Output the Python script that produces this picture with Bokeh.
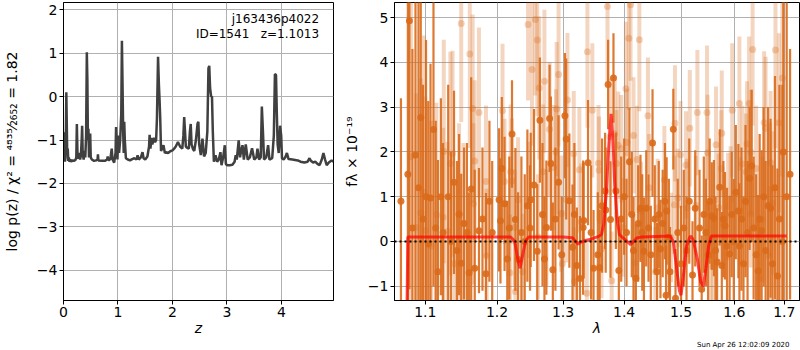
import numpy as np
from bokeh.plotting import figure
from bokeh.layouts import row
from bokeh.models import FixedTicker, Label, ColumnDataSource, Span, CustomJSTickFormatter, Title
from bokeh.embed import file_html
from bokeh.resources import INLINE

# ---------------- left panel: log p(z) ----------------
z_grid = [0.000, 0.005, 0.012, 0.020, 0.028, 0.036, 0.045, 0.052, 0.060, 0.068, 0.078, 0.088, 0.098,
          0.110, 0.125, 0.140, 0.160, 0.190, 0.220, 0.235, 0.245, 0.258, 0.275, 0.290, 0.305, 0.320,
          0.335, 0.342, 0.352, 0.370, 0.385, 0.400, 0.415, 0.428, 0.438, 0.448, 0.458, 0.468, 0.480,
          0.490, 0.500, 0.520, 0.560, 0.600, 0.625, 0.632, 0.640, 0.700, 0.760, 0.800, 0.812, 0.825,
          0.860, 0.885, 0.900, 0.930, 0.955, 0.965, 0.975, 0.990, 1.005, 1.020, 1.040, 1.060, 1.072,
          1.082, 1.095, 1.105, 1.115, 1.125, 1.145, 1.180, 1.220, 1.260, 1.300, 1.340, 1.360, 1.380,
          1.420, 1.450, 1.470, 1.500, 1.540, 1.570, 1.580, 1.595, 1.615, 1.630, 1.650, 1.665, 1.680,
          1.700, 1.715, 1.735, 1.750, 1.765, 1.775, 1.790, 1.810, 1.835, 1.860, 1.880, 1.920, 1.960,
          2.000, 2.030, 2.060, 2.100, 2.140, 2.180, 2.200, 2.215, 2.230, 2.245, 2.270, 2.300, 2.320,
          2.335, 2.350, 2.380, 2.400, 2.430, 2.460, 2.475, 2.490, 2.520, 2.550, 2.580, 2.610, 2.640,
          2.660, 2.675, 2.690, 2.710, 2.725, 2.740, 2.760, 2.790, 2.820, 2.850, 2.880, 2.900, 2.930,
          2.960, 2.980, 3.000, 3.050, 3.100, 3.140, 3.160, 3.180, 3.215, 3.240, 3.260, 3.285, 3.310,
          3.345, 3.380, 3.420, 3.460, 3.500, 3.540, 3.560, 3.590, 3.620, 3.640, 3.660, 3.680, 3.720,
          3.755, 3.780, 3.830, 3.860, 3.880, 3.900, 3.915, 3.930, 3.950, 3.975, 3.995, 4.010, 4.040,
          4.070, 4.100, 4.130, 4.200, 4.250, 4.300, 4.350, 4.420, 4.480, 4.515, 4.540, 4.580, 4.620,
          4.660, 4.700, 4.740, 4.770, 4.800, 4.830, 4.870, 4.920, 4.950]
log_pz = [-1.50, -0.82, -1.45, -1.30, -1.50, -1.40, -0.70, 0.10, -0.60, -1.35, -1.20, -1.48, -1.40,
          -1.50, -1.45, -1.50, -1.47, -1.48, -1.46, -1.40, -0.63, -1.40, -1.42, -1.30, -1.45, -1.35,
          -0.95, -0.67, -1.30, -1.45, -1.25, -1.40, -0.90, 1.02, 0.40, -1.00, -0.74, -1.40, -1.10,
          -0.85, -1.40, -1.45, -1.48, -1.47, -1.45, -1.33, -1.47, -1.48, -1.48, -1.45, -1.38, -1.47,
          -1.44, -1.20, -1.45, -1.52, -1.30, -0.70, -1.00, -1.45, -0.90, -1.30, -1.00, -0.40, 1.29,
          0.40, -0.80, -1.30, -0.58, -1.00, -1.42, -1.45, -1.47, -1.44, -1.42, -1.45, -1.35, -1.45,
          -1.40, -1.28, -1.42, -1.45, -1.38, -1.15, -0.88, -1.20, -0.95, -1.10, -1.00, -0.95, -1.05,
          -1.00, -0.50, 0.92, 0.30, -0.14, -0.50, -1.25, -1.20, -1.12, -1.30, -1.28, -1.30, -1.26,
          -1.24, -1.20, -1.15, -1.05, -1.15, -1.20, -0.90, -0.47, -0.80, -1.15, -1.18, -1.20, -0.80,
          -0.63, -1.10, -1.22, -1.25, -1.00, -0.62, -0.58, -1.10, -1.35, -0.97, -1.38, -1.30, -0.80,
          0.65, 0.71, 0.20, 0.00, 0.00, -0.80, -1.50, -1.35, -1.50, -1.45, -1.28, -1.58, -1.40,
          -1.12, -1.55, -1.58, -1.58, -1.57, -1.50, -1.35, -1.45, -1.01, -1.40, -1.25, -1.12, -1.45,
          -1.10, -1.45, -1.40, -1.19, -1.45, -1.40, -1.20, -1.45, -1.40, -0.23, -0.80, -1.45, -1.40,
          -1.12, -1.45, -1.42, -0.90, 0.52, 0.50, -0.40, -1.10, -1.30, -0.67, -0.90, -1.42, -1.45,
          -1.40, -1.30, -1.44, -1.45, -1.46, -1.47, -1.50, -1.52, -1.50, -1.42, -1.48, -1.52, -1.50,
          -1.55, -1.58, -1.45, -1.30, -1.45, -1.58, -1.52, -1.47, -1.50]

z_ticks = [0, 1, 2, 3, 4]
logp_ticks = [-4, -3, -2, -1, 0, 1, 2]
title_id = "j163436p4022"
title_fit = "ID=1541\u00a0\u00a0\u00a0z=1.1013"

# ---------------- right panel: spectrum ----------------
# dark (first grism) points: wavelength [um], flux, error
lam_dark = [1.068, 1.077, 1.079, 1.083, 1.087, 1.091, 1.094, 1.097, 1.101, 1.104, 1.107, 1.111,
            1.114, 1.117, 1.121, 1.124, 1.131, 1.135, 1.139, 1.143, 1.146, 1.149, 1.153, 1.157,
            1.160, 1.163, 1.168, 1.174, 1.179, 1.184, 1.189, 1.193, 1.203, 1.205, 1.207, 1.211,
            1.215, 1.218, 1.222, 1.227, 1.231, 1.236, 1.241, 1.245, 1.249, 1.250, 1.255, 1.260,
            1.264, 1.268, 1.271, 1.274, 1.279, 1.281, 1.284, 1.288, 1.293, 1.298, 1.303, 1.305,
            1.310, 1.315, 1.318, 1.322, 1.327, 1.332, 1.333, 1.340, 1.345, 1.349, 1.356, 1.359,
            1.363, 1.368, 1.369, 1.373, 1.377, 1.382, 1.386, 1.391, 1.395, 1.400, 1.404, 1.409,
            1.413, 1.416, 1.420, 1.424, 1.428, 1.431, 1.434, 1.438, 1.442, 1.446, 1.449, 1.453,
            1.457, 1.460, 1.463, 1.467, 1.471, 1.473, 1.474, 1.478, 1.480, 1.486, 1.490, 1.494,
            1.500, 1.505, 1.510, 1.515, 1.521, 1.526, 1.534, 1.538, 1.542, 1.546, 1.550, 1.553,
            1.557, 1.561, 1.564, 1.567, 1.572, 1.576, 1.579, 1.582, 1.586, 1.591, 1.595, 1.599,
            1.603, 1.608, 1.610, 1.614, 1.618, 1.622, 1.626, 1.630, 1.634, 1.638, 1.643, 1.647,
            1.650, 1.654, 1.658, 1.662, 1.667, 1.672, 1.676, 1.681, 1.686, 1.690, 1.696, 1.698,
            1.705, 1.712]
flux_dark = [0.90, 1.50, 4.93, 0.30, 1.93, 1.20, 2.77, 0.50, 1.00, -0.06, 0.97, 2.50,
             0.30, -0.68, 1.00, 0.20, 1.00, 0.00, 1.32, -0.20, 0.60, -0.49, 0.40, 0.20,
             -0.70, 1.17, -0.60, 0.24, 0.50, -0.72, 0.90, 0.20, 0.93, 0.46, 1.63, 0.84,
             -0.39, 0.30, 2.40, 0.49, -0.40, 0.20, 0.00, 0.80, 0.30, 0.93, 1.26, -0.22,
             2.71, 0.60, -0.39, 0.31, 2.75, 1.74, -0.63, 0.50, 1.32, -0.30, 2.81, 2.29,
             0.91, -0.13, 0.60, -0.54, -0.83, 0.31, 0.47, 1.76, 0.20, -0.60, -0.30, -0.59,
             0.80, 1.13, 0.70, 3.51, 0.49, 3.65, 1.13, -0.65, 0.50, 1.00, 0.20, 1.78,
             0.60, -0.20, -0.82, 0.40, 0.74, 0.20, -0.22, 0.74, 0.30, -0.30, 2.20, 0.50,
             -0.68, 0.60, -0.17, 0.40, 0.90, -1.20, 0.68, 0.10, -0.68, 2.51, -1.27, 0.20,
             -0.50, 0.30, -0.20, 0.90, -0.75, 0.74, 0.30, -1.07, 0.60, 0.20, -0.30, 0.90,
             0.57, 0.52, -0.20, -0.46, 1.21, -0.54, 0.50, 0.35, -0.10, -0.28, 0.60, 0.00,
             1.10, 0.68, -0.10, 0.50, -0.50, 0.90, 0.20, 1.41, 1.69, 0.30, -0.30, -0.66,
             0.50, 0.24, 1.00, -0.20, 0.80, 0.74, -0.50, 1.20, -0.77, 0.50, 0.00, 2.00,
             1.00, 1.50]
err_dark = [2.3, 5.0, 6.0, 4.0, 5.0, 4.5, 4.5, 3.0, 3.5, 3.2, 3.0, 3.5,
            2.4, 2.5, 2.2, 2.0, 2.5, 2.0, 2.05, 2.0, 1.8, 2.0, 1.7, 2.0,
            1.8, 2.5, 2.2, 1.4, 1.6, 1.8, 1.8, 1.6, 1.6, 1.4, 1.6, 1.5,
            1.3, 1.6, 1.2, 1.6, 1.5, 1.7, 1.5, 1.7, 1.4, 1.5, 1.7, 1.5,
            1.4, 1.6, 1.4, 1.5, 1.2, 1.5, 1.5, 1.6, 1.5, 1.3, 1.4, 1.8,
            1.5, 1.4, 1.6, 1.3, 1.4, 1.5, 1.3, 1.4, 1.5, 1.3, 1.4, 1.3,
            1.5, 1.3, 1.4, 1.0, 1.3, 1.0, 1.3, 1.2, 1.4, 1.3, 1.2, 1.2,
            1.4, 1.2, 1.2, 1.3, 1.2, 1.3, 1.2, 1.3, 1.2, 1.1, 1.2, 1.2,
            1.1, 1.2, 1.1, 1.2, 1.3, 1.1, 1.2, 1.3, 1.0, 0.9, 1.1, 1.2,
            1.3, 1.3, 1.2, 1.4, 1.2, 1.3, 1.3, 1.2, 1.3, 1.2, 1.2, 1.4,
            1.2, 1.3, 1.2, 1.2, 1.3, 1.2, 1.3, 1.2, 1.3, 1.3, 1.4, 1.4,
            1.5, 1.5, 1.4, 1.6, 1.5, 1.7, 1.6, 1.6, 1.7, 1.6, 1.8, 1.7,
            1.9, 1.8, 2.0, 2.0, 2.2, 2.0, 2.2, 2.5, 2.4, 3.0, 3.5, 5.0,
            6.0, 2.8]

# light (second grism) points
lam_light = [1.081, 1.088, 1.094, 1.098, 1.100, 1.108, 1.115, 1.124, 1.125, 1.130, 1.134, 1.137,
             1.140, 1.146, 1.149, 1.152, 1.161, 1.165, 1.166, 1.168, 1.174, 1.184, 1.185, 1.208,
             1.211, 1.219, 1.220, 1.222, 1.226, 1.227, 1.231, 1.238, 1.246, 1.247, 1.252, 1.257,
             1.260, 1.261, 1.263, 1.269, 1.271, 1.274, 1.279, 1.285, 1.289, 1.290, 1.293, 1.297,
             1.299, 1.305, 1.307, 1.317, 1.318, 1.326, 1.329, 1.338, 1.339, 1.347, 1.357, 1.358,
             1.362, 1.372, 1.376, 1.379, 1.384, 1.387, 1.390, 1.395, 1.398, 1.403, 1.405, 1.408,
             1.411, 1.416, 1.418, 1.422, 1.426, 1.429, 1.441, 1.443, 1.454, 1.458, 1.470, 1.482,
             1.488, 1.489, 1.494, 1.499, 1.509, 1.511, 1.516, 1.527, 1.530, 1.548, 1.549, 1.555,
             1.559, 1.565, 1.570, 1.575, 1.576, 1.588, 1.593, 1.596, 1.610, 1.612, 1.616, 1.623,
             1.625, 1.629, 1.632, 1.633, 1.636, 1.643, 1.649, 1.656, 1.659, 1.662, 1.669, 1.671,
             1.672, 1.676, 1.682, 1.689, 1.696]
flux_light = [1.89, 0.31, 0.64, 1.10, 0.24, -0.10, 0.60, 0.54, 2.01, 0.22, 1.74, 1.96,
              -0.50, 0.64, 4.87, 0.40, 4.19, 2.97, 0.84, 1.80, 2.88, 1.34, -0.32, 2.92,
              1.34, -0.70, 1.56, 1.35, 0.31, -1.12, 0.93, -0.68, 4.85, 0.93, 3.84, 4.96,
              4.50, 0.10, 3.43, 1.56, 3.58, 0.31, 2.51, 1.65, 2.00, 2.96, 3.73, 0.62,
              -0.50, 0.93, 3.16, 1.96, -0.89, 1.60, 0.44, -1.16, 4.24, 2.93, 1.75, 1.59,
              -0.17, 5.25, 2.34, -0.88, 2.40, 1.74, 2.15, 2.07, 0.31, 3.41, 2.21, 4.54,
              5.29, 2.37, -0.48, 1.83, 4.51, 0.68, 2.81, 1.20, -0.68, 0.75, 1.38, 0.09,
              0.82, 2.64, 0.97, 1.94, 1.71, 0.75, 2.53, 0.81, 2.88, 2.88, 1.98, -0.31,
              -0.56, 2.16, 0.76, 1.63, 2.42, 0.78, 0.93, 2.93, 3.08, 0.68, 1.73, 1.56,
              2.18, 3.08, 0.62, 1.99, 4.29, 1.63, -0.83, 0.49, 2.65, 2.53, -0.32, 1.16,
              1.76, 0.86, 4.28, 2.65, 3.65]
err_light = [3.5, 3.0, 3.0, 3.5, 3.0, 2.8, 2.5, 2.0, 2.5, 2.0, 2.5, 2.3,
             1.8, 2.0, 2.2, 1.8, 2.1, 2.1, 1.8, 1.8, 1.9, 1.7, 1.5, 1.5,
             1.4, 1.3, 1.5, 1.4, 1.3, 1.2, 1.4, 1.3, 1.7, 1.3, 1.7, 1.7,
             1.7, 1.4, 1.6, 1.5, 1.6, 1.3, 1.5, 1.4, 1.4, 1.5, 1.6, 1.3,
             1.2, 1.4, 1.5, 1.4, 1.2, 1.4, 1.3, 1.2, 1.7, 1.5, 1.3, 1.2,
             1.1, 1.7, 1.3, 1.1, 1.3, 1.2, 1.2, 1.2, 1.1, 1.5, 1.2, 1.6,
             1.7, 1.3, 1.1, 1.2, 1.6, 1.1, 1.3, 1.2, 1.0, 1.1, 1.2, 1.0,
             1.1, 1.3, 1.1, 1.2, 1.2, 1.1, 1.3, 1.1, 1.4, 1.5, 1.3, 1.2,
             1.1, 1.3, 1.2, 1.3, 1.4, 1.2, 1.2, 1.5, 1.5, 1.2, 1.3, 1.3,
             1.4, 1.5, 1.2, 1.4, 1.7, 1.4, 1.3, 1.4, 1.6, 1.6, 1.4, 1.5,
             1.6, 1.6, 2.2, 2.0, 2.2]

# best-fit model
lam_model = [1.0755, 1.077, 1.150, 1.220, 1.226, 1.230, 1.234, 1.238, 1.242, 1.247, 1.300, 1.315,
             1.320, 1.324, 1.328, 1.335, 1.345, 1.355, 1.362, 1.366, 1.370, 1.374, 1.378, 1.381,
             1.384, 1.388, 1.392, 1.398, 1.405, 1.411, 1.416, 1.422, 1.430, 1.480, 1.486, 1.492,
             1.497, 1.500, 1.504, 1.510, 1.517, 1.522, 1.530, 1.536, 1.541, 1.546, 1.551, 1.556,
             1.600, 1.705]
flux_model = [-2.00, 0.10, 0.10, 0.10, 0.00, -0.35, -0.60, -0.30, 0.00, 0.10, 0.10, 0.08,
              0.00, -0.06, -0.02, 0.02, 0.05, 0.10, 0.15, 0.40, 1.10, 2.10, 2.85, 2.30,
              1.30, 0.50, 0.15, 0.08, 0.00, -0.07, 0.00, 0.08, 0.10, 0.12, 0.00, -0.60,
              -1.10, -1.20, -0.80, -0.10, 0.12, 0.05, -0.40, -0.90, -1.00, -0.60, -0.10, 0.12,
              0.12, 0.12]

lam_ticks = [1.1, 1.2, 1.3, 1.4, 1.5, 1.6, 1.7]
flux_ticks = [-1, 0, 1, 2, 3, 4, 5]
timestamp = "Sun Apr 26 12:02:09 2020"

FONT = "DejaVu Sans"
ORANGE = "#d96a1b"

int_fmt = CustomJSTickFormatter(code="return (tick < 0 ? '\u2212' : '') + Math.abs(tick).toFixed(0);")
dec_fmt = CustomJSTickFormatter(code="return tick.toFixed(1);")


def style(p):
    p.outline_line_color = "black"
    p.outline_line_width = 1
    p.outline_line_alpha = 1
    p.background_fill_color = "white"
    p.border_fill_color = "white"
    for ax in (p.xaxis, p.yaxis):
        ax.axis_line_color = "black"
        ax.major_tick_line_color = "black"
        ax.major_tick_out = 4
        ax.major_tick_in = 0
        ax.minor_tick_line_color = None
        ax.major_label_text_font = FONT
        ax.major_label_text_font_size = "14px"
        ax.major_label_text_color = "black"
        ax.major_label_standoff = 2
        ax.axis_label_text_font = FONT
        ax.axis_label_text_font_size = "14px"
        ax.axis_label_text_color = "black"
        ax.axis_label_text_font_style = "normal"
    p.xaxis.axis_label_standoff = 0
    p.xgrid.grid_line_color = "#b0b0b0"
    p.ygrid.grid_line_color = "#b0b0b0"
    p.xgrid.grid_line_width = 1
    p.ygrid.grid_line_width = 1


# ---- left figure
p1 = figure(width=340, height=350, x_range=(0, 4.955), y_range=(-4.70, 2.17),
            output_backend="svg", toolbar_location=None,
            min_border_left=62, min_border_right=7, min_border_top=2, min_border_bottom=50)
style(p1)
p1.line(z_grid, log_pz, line_color="#404040", line_width=2.5)
p1.xaxis.ticker = FixedTicker(ticks=z_ticks)
p1.yaxis.ticker = FixedTicker(ticks=logp_ticks)
p1.xaxis.formatter = int_fmt
p1.yaxis.formatter = int_fmt
p1.xaxis.axis_label = "z"
p1.xaxis.axis_label_text_font_style = "italic"
p1.yaxis.axis_label = "log p(z) / \u03c7\u00b2 = \u2074\u2078\u00b3\u2075\u2044\u2082\u2086\u2085\u2082 = 1.82"
p1.yaxis.axis_label_standoff = 14
p1.add_layout(Label(x=4.69, y=1.78, text=title_id, text_align="right", text_baseline="middle",
                    text_font=FONT, text_font_size="12px", text_color="black"))
p1.add_layout(Label(x=4.69, y=1.44, text=title_fit, text_align="right", text_baseline="middle",
                    text_font=FONT, text_font_size="12px", text_color="black"))

# ---- right figure
p2 = figure(width=460, height=350, x_axis_type="log", x_range=(1.0597, 1.7317), y_range=(-1.32, 5.34),
            output_backend="svg", toolbar_location=None,
            min_border_left=52, min_border_right=1, min_border_top=2, min_border_bottom=50)
style(p2)

fl = np.array(flux_light)
el = np.array(err_light)
src_l = ColumnDataSource(dict(x=lam_light, y=flux_light, lo=list(fl - el), hi=list(fl + el)))
fd = np.array(flux_dark)
ed = np.array(err_dark)
src_d = ColumnDataSource(dict(x=lam_dark, y=flux_dark, lo=list(fd - ed), hi=list(fd + ed)))

p2.segment(x0="x", y0="lo", x1="x", y1="hi", source=src_l, line_color=ORANGE, line_alpha=0.28, line_width=4)
p2.scatter("x", "y", source=src_l, size=7, fill_color=ORANGE, fill_alpha=0.3, line_color=None)
p2.segment(x0="x", y0="lo", x1="x", y1="hi", source=src_d, line_color=ORANGE, line_alpha=0.9, line_width=2.2)
p2.scatter("x", "y", source=src_d, size=7, fill_color=ORANGE, fill_alpha=0.9, line_color=None)
p2.add_layout(Span(location=0, dimension="width", line_color="black", line_dash="2 3", line_width=2))
p2.line(lam_model, flux_model, line_color="red", line_alpha=0.7, line_width=3)

p2.xaxis.ticker = FixedTicker(ticks=lam_ticks)
p2.yaxis.ticker = FixedTicker(ticks=flux_ticks)
p2.xaxis.formatter = dec_fmt
p2.yaxis.formatter = int_fmt
p2.xaxis.axis_label = "\u03bb"
p2.xaxis.axis_label_text_font_style = "italic"
p2.yaxis.axis_label = "f\u03bb \u00d7 10\u207b\u00b9\u2079"
p2.yaxis.axis_label_standoff = 5
p2.add_layout(Title(text=timestamp, align="right", text_font=FONT, text_font_size="7px",
                    text_font_style="normal", text_color="black", standoff=0, offset=10), "below")

layout = row(p1, p2)
open("out.html", "w").write(file_html(layout, INLINE))
